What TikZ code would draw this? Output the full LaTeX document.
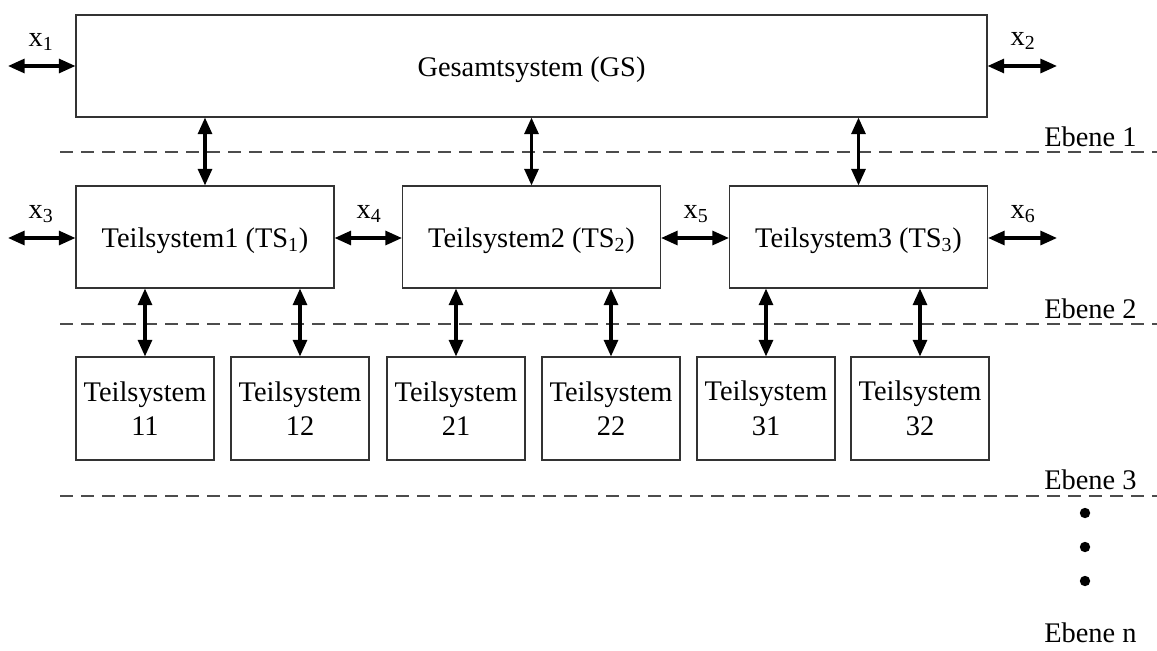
\documentclass[tikz,border=0pt]{standalone}
\usepackage{fontspec}
\setmainfont{Liberation Serif}
\usetikzlibrary{arrows.meta}
\begin{document}
\begin{tikzpicture}[x=0.75pt,y=-0.75pt,
  box/.style={draw=black!80,line width=0.8pt,inner sep=0pt,align=center,font=\fontsize{21.3}{26}\selectfont},
  bigbox/.style={box,minimum width=683.25pt,minimum height=76.5pt,text height=16pt,text depth=0pt},
  tsbox/.style={box,minimum width=193.5pt,minimum height=76.5pt,text height=16pt,text depth=0pt},
  subbox/.style={box,minimum width=103.5pt,minimum height=77.25pt},
  biarrow/.style={line width=2.4pt,{Triangle[length=12.5pt,width=10.5pt]}-{Triangle[length=12.5pt,width=10.5pt]}},
  layer/.style={draw=black!70,line width=0.8pt,dash pattern=on 9.75pt off 6pt},
  lbl/.style={anchor=base,inner sep=0pt,font=\fontsize{21.3}{26}\selectfont},
  ebene/.style={anchor=base west,inner sep=0pt,font=\fontsize{21.3}{26}\selectfont}]
\useasboundingbox (0,0) rectangle (1157,650);

% boxes
\node[bigbox] (gs) at (531.5,66) {Gesamtsystem (GS)};
\node[tsbox] (ts1) at (205,237) {Teilsystem1 (TS\textsubscript{1})};
\node[tsbox] (ts2) at (531.5,237) {Teilsystem2 (TS\textsubscript{2})};
\node[tsbox] (ts3) at (858.5,237) {Teilsystem3 (TS\textsubscript{3})};

\node[subbox] (s11) at (145,408.5) {Teilsystem\\11};
\node[subbox] (s12) at (300,408.5) {Teilsystem\\12};
\node[subbox] (s21) at (456,408.5) {Teilsystem\\21};
\node[subbox] (s22) at (611,408.5) {Teilsystem\\22};
\node[subbox] (s31) at (766,408.5) {Teilsystem\\31};
\node[subbox] (s32) at (920,408.5) {Teilsystem\\32};

% layer lines
\coordinate (l1a) at (60,152);  \coordinate (l1b) at (1157,152);
\coordinate (l2a) at (60,324);  \coordinate (l2b) at (1157,324);
\coordinate (l3a) at (60,496);  \coordinate (l3b) at (1157,496);
\draw[layer] (l1a) -- (l1b);
\draw[layer] (l2a) -- (l2b);
\draw[layer] (l3a) -- (l3b);
\node[ebene] (e1) at (1044,146) {Ebene 1};
\node[ebene] (e2) at (1044,318) {Ebene 2};
\node[ebene] (e3) at (1044,489) {Ebene 3};
\node[ebene] (en) at (1044,642) {Ebene n};

% dots
\fill (1085,513) circle[radius=3.9pt];
\fill (1085,547) circle[radius=3.9pt];
\fill (1085,581) circle[radius=3.9pt];

% vertical arrows GS - TS
\draw[biarrow] (ts1.north) -- (ts1.north |- gs.south);
\draw[biarrow] (ts2.north) -- (ts2.north |- gs.south);
\draw[biarrow] (ts3.north) -- (ts3.north |- gs.south);

% vertical arrows TS - sub
\draw[biarrow] (s11.north) -- (s11.north |- ts1.south);
\draw[biarrow] (s12.north) -- (s12.north |- ts1.south);
\draw[biarrow] (s21.north) -- (s21.north |- ts2.south);
\draw[biarrow] (s22.north) -- (s22.north |- ts2.south);
\draw[biarrow] (s31.north) -- (s31.north |- ts3.south);
\draw[biarrow] (s32.north) -- (s32.north |- ts3.south);

% horizontal arrows
\coordinate (x1e) at (8,66);
\coordinate (x2e) at (1057,66);
\coordinate (x3e) at (8,238);
\coordinate (x6e) at (1057,238);
\draw[biarrow] (x1e) -- (gs.west |- x1e);
\draw[biarrow] (gs.east |- x2e) -- (x2e);
\draw[biarrow] (x3e) -- (ts1.west |- x3e);
\draw[biarrow] (ts1.east |- x3e) -- (ts2.west |- x3e);
\draw[biarrow] (ts2.east |- x3e) -- (ts3.west |- x3e);
\draw[biarrow] (ts3.east |- x6e) -- (x6e);

% labels
\node[lbl] (x1) at (41,46) {x\textsubscript{1}};
\node[lbl] (x2) at (1023,45) {x\textsubscript{2}};
\node[lbl] (x3) at (41,218) {x\textsubscript{3}};
\node[lbl] (x4) at (369,218) {x\textsubscript{4}};
\node[lbl] (x5) at (696,218) {x\textsubscript{5}};
\node[lbl] (x6) at (1023,218) {x\textsubscript{6}};
\end{tikzpicture}
\end{document}
